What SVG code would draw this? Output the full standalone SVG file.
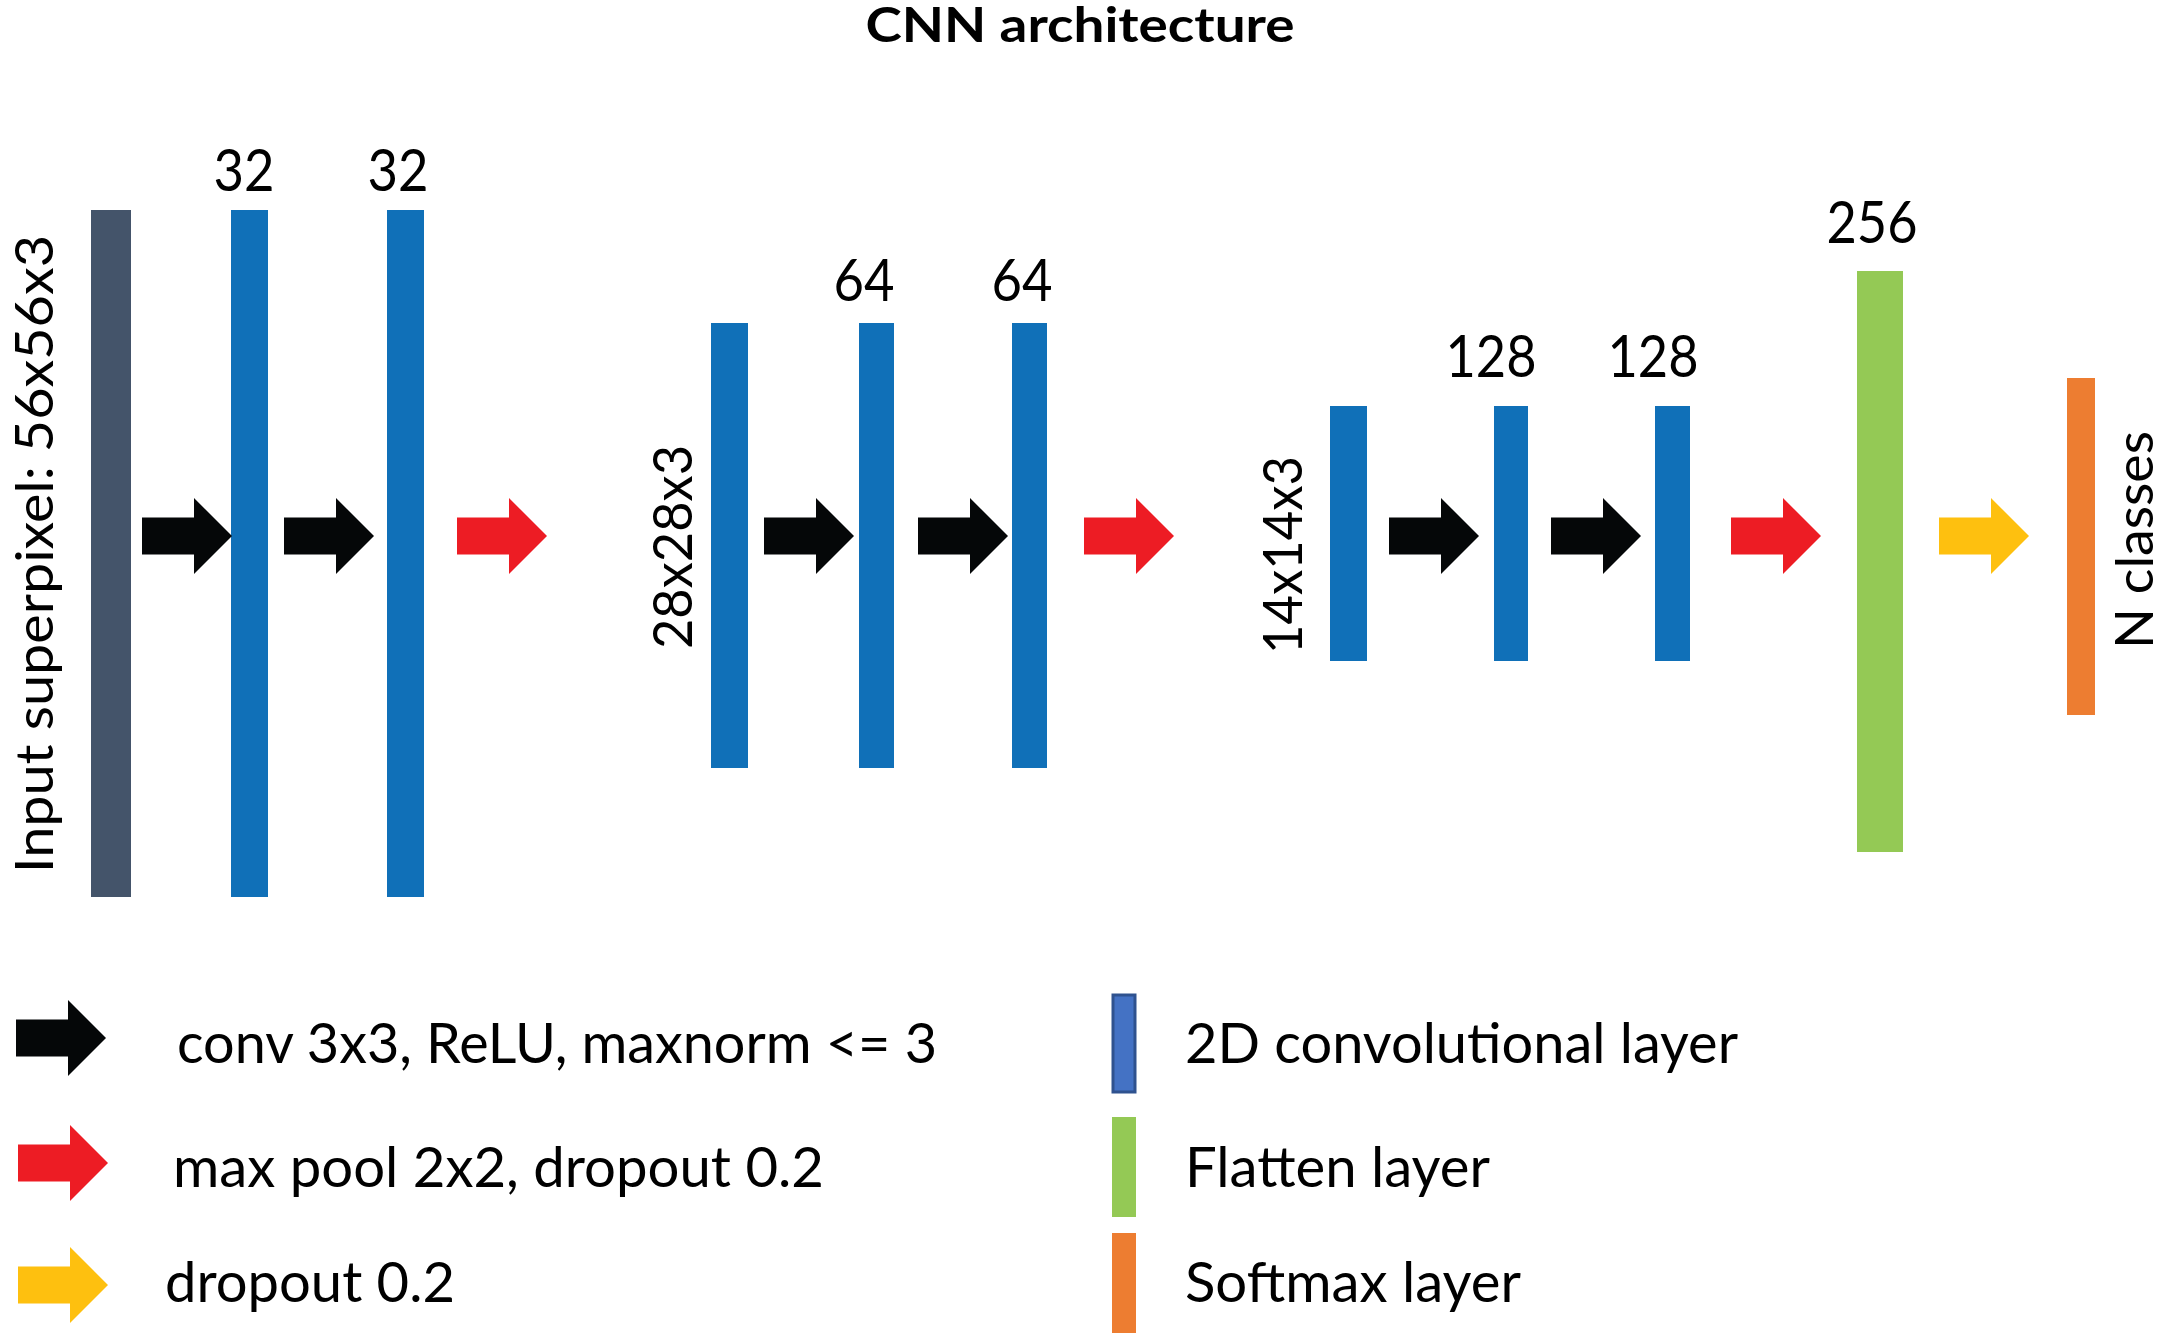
<svg xmlns="http://www.w3.org/2000/svg" xmlns:xlink="http://www.w3.org/1999/xlink" width="2165" height="1333" viewBox="0 0 2165 1333">
<style>
  text { font-family: Lato, "Open Sans", "Liberation Sans", sans-serif; fill: #000; }
  .title { font-size: 47px; font-weight: bold; }
  .num { font-size: 58px; }
  .lab { font-size: 55px; }
  .edge { font-size: 53px; }
  .leg { font-size: 56px; }
  .input { fill: #44546A; }
  .conv { fill: #1070B8; }
  .flat { fill: #94C955; }
  .soft { fill: #ED7D31; }
  .blk { fill: #050708; }
  .red { fill: #ED1C24; }
  .yel { fill: #FEC00F; }
</style>
<defs>
  <path id="arr" d="M0,-18.5 H52 V-38 L90,0 L52,38 V18.5 H0 Z"/>
</defs>
<rect x="0" y="0" width="2165" height="1333" fill="#fff"/>
<text class="title" x="1080" y="42" text-anchor="middle" textLength="429" lengthAdjust="spacingAndGlyphs">CNN architecture</text>

<g id="input-layer">
  <rect class="input" x="91" y="210" width="40" height="687"/>
  <text class="edge" transform="translate(53,554) rotate(-90)" text-anchor="middle" textLength="638" lengthAdjust="spacingAndGlyphs">Input superpixel: 56x56x3</text>
</g>
<g id="conv1a">
  <rect class="conv" x="231" y="210" width="37" height="687"/>
  <text class="num" x="244" y="191" text-anchor="middle" textLength="61" lengthAdjust="spacingAndGlyphs">32</text>
</g>
<g id="conv1b">
  <rect class="conv" x="387" y="210" width="37" height="687"/>
  <text class="num" x="398" y="191" text-anchor="middle" textLength="61" lengthAdjust="spacingAndGlyphs">32</text>
</g>
<g id="pool1">
  <rect class="conv" x="711" y="323" width="37" height="445"/>
  <text class="lab" transform="translate(692,547) rotate(-90)" text-anchor="middle" textLength="204" lengthAdjust="spacingAndGlyphs">28x28x3</text>
</g>
<g id="conv2a">
  <rect class="conv" x="859" y="323" width="35" height="445"/>
  <text class="num" x="864" y="301" text-anchor="middle" textLength="61" lengthAdjust="spacingAndGlyphs">64</text>
</g>
<g id="conv2b">
  <rect class="conv" x="1012" y="323" width="35" height="445"/>
  <text class="num" x="1022" y="301" text-anchor="middle" textLength="61" lengthAdjust="spacingAndGlyphs">64</text>
</g>
<g id="pool2">
  <rect class="conv" x="1330" y="406" width="37" height="255"/>
  <text class="lab" transform="translate(1302,555) rotate(-90)" text-anchor="middle" textLength="198" lengthAdjust="spacingAndGlyphs">14x14x3</text>
</g>
<g id="conv3a">
  <rect class="conv" x="1494" y="406" width="34" height="255"/>
  <text class="num" x="1491" y="377" text-anchor="middle" textLength="91" lengthAdjust="spacingAndGlyphs">128</text>
</g>
<g id="conv3b">
  <rect class="conv" x="1655" y="406" width="35" height="255"/>
  <text class="num" x="1653" y="377" text-anchor="middle" textLength="91" lengthAdjust="spacingAndGlyphs">128</text>
</g>
<g id="flatten">
  <rect class="flat" x="1857" y="271" width="46" height="581"/>
  <text class="num" x="1872" y="243" text-anchor="middle" textLength="91" lengthAdjust="spacingAndGlyphs">256</text>
</g>
<g id="softmax">
  <rect class="soft" x="2067" y="378" width="28" height="337"/>
  <text class="edge" transform="translate(2153,540) rotate(-90)" text-anchor="middle" textLength="218" lengthAdjust="spacingAndGlyphs">N classes</text>
</g>

<g id="connectors">
  <use xlink:href="#arr" href="#arr" class="blk" x="142" y="536"/>
  <use xlink:href="#arr" href="#arr" class="blk" x="284" y="536"/>
  <use xlink:href="#arr" href="#arr" class="red" x="457" y="536"/>
  <use xlink:href="#arr" href="#arr" class="blk" x="764" y="536"/>
  <use xlink:href="#arr" href="#arr" class="blk" x="918" y="536"/>
  <use xlink:href="#arr" href="#arr" class="red" x="1084" y="536"/>
  <use xlink:href="#arr" href="#arr" class="blk" x="1389" y="536"/>
  <use xlink:href="#arr" href="#arr" class="blk" x="1551" y="536"/>
  <use xlink:href="#arr" href="#arr" class="red" x="1731" y="536"/>
  <use xlink:href="#arr" href="#arr" class="yel" x="1939" y="536"/>
</g>

<g id="legend">
  <g id="legend-conv-op">
    <use xlink:href="#arr" href="#arr" class="blk" x="16" y="1038"/>
    <text class="leg" x="177" y="1063" textLength="760" lengthAdjust="spacingAndGlyphs">conv 3x3, ReLU, maxnorm &lt;= 3</text>
  </g>
  <g id="legend-pool-op">
    <use xlink:href="#arr" href="#arr" class="red" x="18" y="1163"/>
    <text class="leg" x="173" y="1187" textLength="651" lengthAdjust="spacingAndGlyphs">max pool 2x2, dropout 0.2</text>
  </g>
  <g id="legend-dropout-op">
    <use xlink:href="#arr" href="#arr" class="yel" x="18" y="1285"/>
    <text class="leg" x="165" y="1302" textLength="290" lengthAdjust="spacingAndGlyphs">dropout 0.2</text>
  </g>
  <g id="legend-conv-layer">
    <rect x="1113" y="995" width="22" height="97" fill="#4472C4" stroke="#2F528F" stroke-width="3"/>
    <text class="leg" x="1185" y="1063" textLength="553" lengthAdjust="spacingAndGlyphs">2D convolutional layer</text>
  </g>
  <g id="legend-flatten-layer">
    <rect class="flat" x="1112" y="1117" width="24" height="100"/>
    <text class="leg" x="1185" y="1187" textLength="305" lengthAdjust="spacingAndGlyphs">Flatten layer</text>
  </g>
  <g id="legend-softmax-layer">
    <rect class="soft" x="1112" y="1233" width="24" height="100"/>
    <text class="leg" x="1185" y="1302" textLength="336" lengthAdjust="spacingAndGlyphs">Softmax layer</text>
  </g>
</g>
</svg>
